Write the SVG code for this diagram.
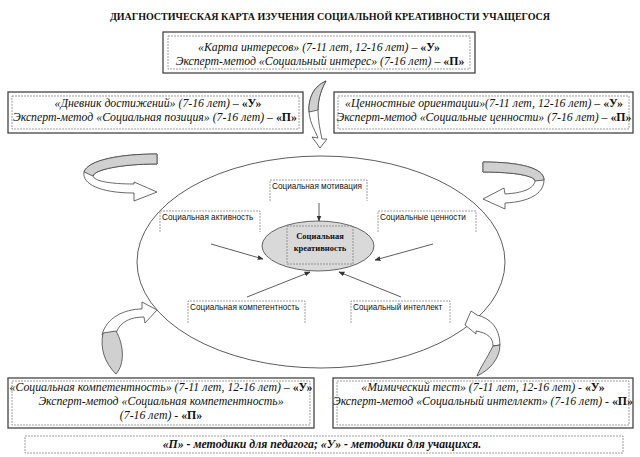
<svg xmlns="http://www.w3.org/2000/svg" width="640" height="457" viewBox="0 0 640 457">
<defs>
<marker id="ah" viewBox="0 0 10 10" refX="9" refY="5" markerWidth="6" markerHeight="6" orient="auto" markerUnits="userSpaceOnUse"><path d="M0,1 L10,5 L0,9 Z" fill="#333"/></marker>
<style>
.outer{fill:#fff;stroke:#444;stroke-width:1.3}
.inner{fill:none;stroke:#777;stroke-width:0.7;stroke-dasharray:2 1}
.t{font-family:"Liberation Serif",serif;font-style:italic;font-size:11.8px;fill:#111;text-anchor:middle}
.b{font-weight:bold;font-style:normal}
.title{font-family:"Liberation Serif",serif;font-weight:bold;font-size:10px;fill:#111;text-anchor:middle}
.lab{font-family:"Liberation Sans",sans-serif;font-size:8.2px;fill:#111}
.lbox{fill:none;stroke:#777;stroke-width:0.7;stroke-dasharray:2 1}
.conn{stroke:#333;stroke-width:0.8;fill:none;marker-end:url(#ah)}
.rib{fill:#fff;stroke:#444;stroke-width:0.8;stroke-linejoin:round}
.ribg{fill:#d0d0d0;stroke:#444;stroke-width:0.8;stroke-linejoin:round}
</style>
</defs>
<rect width="640" height="457" fill="#fff"/>
<text class="title" x="330" y="20">ДИАГНОСТИЧЕСКАЯ КАРТА ИЗУЧЕНИЯ СОЦИАЛЬНОЙ КРЕАТИВНОСТИ УЧАЩЕГОСЯ</text>

<g id="box-top">
<rect class="outer" x="163" y="32" width="312" height="41"/>
<rect class="inner" x="168" y="36" width="302" height="33"/>
<text class="t" x="319" y="51">«Карта интересов» (7-11 лет, 12-16 лет) – <tspan class="b">«У»</tspan></text>
<text class="t" x="320" y="65">Эксперт-метод «Социальный интерес» (7-16 лет) – <tspan class="b">«П»</tspan></text>
</g>
<g id="box-left">
<rect class="outer" x="8" y="92" width="295" height="41"/>
<rect class="inner" x="12" y="96" width="287" height="33"/>
<text class="t" x="158" y="107">«Дневник достижений» (7-16 лет) – <tspan class="b">«У»</tspan></text>
<text class="t" x="155" y="121">Эксперт-метод «Социальная позиция» (7-16 лет) – <tspan class="b">«П»</tspan></text>
</g>
<g id="box-right">
<rect class="outer" x="334" y="92" width="299" height="41"/>
<rect class="inner" x="338" y="96" width="291" height="33"/>
<text class="t" x="484" y="107">«Ценностные ориентации»(7-11 лет, 12-16 лет) – <tspan class="b">«У»</tspan></text>
<text class="t" x="484" y="121">Эксперт-метод «Социальные ценности» (7-16 лет) – <tspan class="b">«П»</tspan></text>
</g>
<g id="box-bottom-left">
<rect class="outer" x="8" y="378" width="306" height="50"/>
<rect class="inner" x="12" y="381" width="298" height="44"/>
<text class="t" x="161" y="391">«Социальная компетентность» (7-11 лет, 12-16 лет) – <tspan class="b">«У»</tspan></text>
<text class="t" x="161" y="405">Эксперт-метод «Социальная компетентность»</text>
<text class="t" x="161" y="419">(7-16 лет) - <tspan class="b">«П»</tspan></text>
</g>
<g id="box-bottom-right">
<rect class="outer" x="333" y="378" width="300" height="50"/>
<rect class="inner" x="337" y="381" width="292" height="44"/>
<text class="t" x="483" y="391">«Мимический тест» (7-11 лет, 12-16 лет) - <tspan class="b">«У»</tspan></text>
<text class="t" x="483" y="405">Эксперт-метод «Социальный интеллект» (7-16 лет) - <tspan class="b">«П»</tspan></text>
</g>
<g id="legend">
<rect class="inner" x="25" y="436" width="598" height="17"/>
<text class="t" x="322" y="448" font-weight="bold">«П» - методики для педагога; «У» - методики для учащихся.</text>
</g>

<g id="big-ellipse">
<ellipse cx="321" cy="262" rx="184" ry="106" fill="none" stroke="#333" stroke-width="0.8"/>
</g>

<g id="ribbons">
<g id="rib-top">
<path class="rib" d="M326,81 C314,86 308,98 309,112 C310,124 316,132 318,138 L312,137 L320,148 L327,139 L322,139 C320,130 318,120 318,110 C318,98 322,88 326,81 Z"/>
<path class="ribg" d="M326,81 C314,86 308,98 309,112 L318,110 C318,98 322,88 326,81 Z"/>
</g>
<g id="rib-left">
<path class="rib" d="M157,154 C120,154 88,160 84,172 C82,184 100,193 134,193 L134,201 L157,192 L134,182 L134,184 C110,184 94,181 93,176 C94,170 120,164 157,164 Z"/>
<path class="ribg" d="M157,154 C120,154 88,160 84,172 L93,176 C94,170 120,164 157,164 Z"/>
</g>
<g id="rib-right">
<path class="rib" d="M483,162 C520,162 544,168 544,180 C544,194 528,202 505,203 L505,209 L483,199 L504,188 L505,194 C522,193 534,189 535,181 C535,176 515,172 483,172 Z"/>
<path class="ribg" d="M483,162 C520,162 544,168 544,180 L535,181 C535,176 515,172 483,172 Z"/>
</g>
<g id="rib-bottom-left">
<path class="rib" d="M102,335 C106,318 124,309 142,309 L142,302 L157,310 L145,323 L144,317 C130,317 120,322 116,333 Z"/>
<path class="ribg" d="M103,333 C100,348 104,362 116,374 C125,364 124,345 116,331 Z"/>
</g>
<g id="rib-bottom-right">
<path class="rib" d="M477,315 C490,318 500,328 500,345 L493,346 C493,338 488,333 476,331 L476,334 L465,325 L471,311 Z"/>
<path class="ribg" d="M500,345 C500,358 490,370 477,376 C480,368 486,360 493,346 Z"/>
</g>
</g>

<g id="center">
<ellipse cx="318" cy="246" rx="56" ry="25" fill="#d9d9d9" stroke="#444" stroke-width="0.8"/>
<rect class="lbox" x="287" y="226" width="66" height="38"/>
<text x="320" y="239" font-family="Liberation Serif, serif" font-weight="bold" font-size="8.5" text-anchor="middle" fill="#111">Социальная</text>
<text x="320" y="251" font-family="Liberation Serif, serif" font-weight="bold" font-size="8.5" text-anchor="middle" fill="#111">креативность</text>
</g>
<g id="lab-motivation">
<path class="lbox" d="M270,201 V180 H367 V201"/>
<text class="lab" x="272" y="189">Социальная мотивация</text>
</g>
<g id="lab-activity">
<path class="lbox" d="M160,232 V211 H260 V232"/>
<text class="lab" x="162" y="220">Социальная активность</text>
</g>
<g id="lab-values">
<path class="lbox" d="M378,232 V211 H476 V232"/>
<text class="lab" x="380" y="220">Социальные ценности</text>
</g>
<g id="lab-competence">
<path class="lbox" d="M188,323 V301 H305 V323"/>
<text class="lab" x="190" y="310">Социальная компетентность</text>
</g>
<g id="lab-intellect">
<path class="lbox" d="M351,323 V301 H450 V323"/>
<text class="lab" x="353" y="310">Социальный интеллект</text>
</g>

<g id="connectors">
<line class="conn" x1="319" y1="203" x2="319" y2="221"/>
<line class="conn" x1="211" y1="244" x2="263" y2="259"/>
<line class="conn" x1="433" y1="244" x2="375" y2="260"/>
<line class="conn" x1="247" y1="297" x2="310" y2="272"/>
<line class="conn" x1="401" y1="297" x2="339" y2="272"/>
</g>
</svg>
